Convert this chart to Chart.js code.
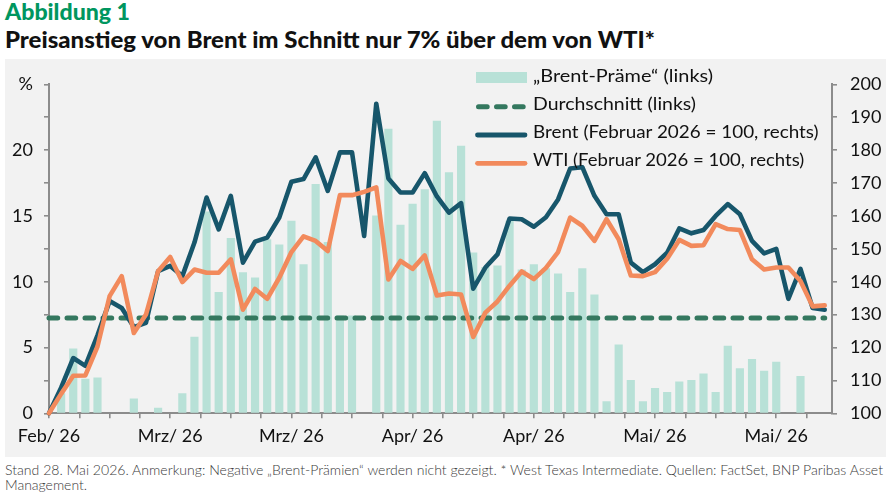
<!DOCTYPE html>
<html>
<head>
<meta charset="utf-8">
<script src="https://cdn.jsdelivr.net/npm/chart.js@4.4.1/dist/chart.umd.min.js"></script>
<style>
  html, body { margin:0; padding:0; }
  body { width:886px; height:500px; background:#fff; position:relative; overflow:hidden; font-family: Lato, "Noto Sans", sans-serif; }
  .t { position:absolute; white-space:nowrap; display:inline-block; transform-origin:0 0; line-height:1; }
  #panel { position:absolute; left:5px; top:59px; width:881px; height:398px; background:#f2f2f2; }
  .sw { position:absolute; }
</style>
</head>
<body>
<div class="t" data-w="125" style="left:5px; top:0px; font-size:23.5px; font-weight:900; color:#00965f;">Abbildung 1</div>
<div class="t" data-w="650" style="left:5px; top:28px; font-size:23.5px; font-weight:900; color:#111;">Preisanstieg von Brent im Schnitt nur 7% über dem von WTI*</div>

<div id="panel"><canvas id="c"></canvas></div>

<div class="sw" style="left:476px; top:72px; width:51px; height:11px; background:#b8e1d7;"></div>
<svg class="sw" style="left:470px; top:96px;" width="62" height="80">
  <line x1="8.5" y1="10.7" x2="54" y2="10.7" stroke="#34785f" stroke-width="5" stroke-linecap="round" stroke-dasharray="8.7 9.3"/>
  <line x1="7.5" y1="39" x2="55" y2="39" stroke="#17566b" stroke-width="4.8" stroke-linecap="round"/>
  <line x1="7.5" y1="67.3" x2="55" y2="67.3" stroke="#f28a5c" stroke-width="4.8" stroke-linecap="round"/>
</svg>
<div class="t" data-w="180" style="left:533px; top:67.2px; font-size:17.5px; color:#111;">„Brent-Präme“ (links)</div>
<div class="t" data-w="163" style="left:533px; top:95.2px; font-size:17.5px; color:#111;">Durchschnitt (links)</div>
<div class="t" data-w="285.6" style="left:533px; top:122.8px; font-size:17.5px; color:#111;">Brent (Februar 2026 = 100, rechts)</div>
<div class="t" data-w="271.3" style="left:533px; top:151.2px; font-size:17.5px; color:#111;">WTI (Februar 2026 = 100, rechts)</div>

<div class="t" data-w="878" style="left:5px; top:464px; font-size:13px; font-weight:300; color:#3a3a3a;">Stand 28. Mai 2026. Anmerkung: Negative „Brent-Prämien“ werden nicht gezeigt. * West Texas Intermediate. Quellen: FactSet, BNP Paribas Asset</div>
<div class="t" data-w="82" style="left:5px; top:479px; font-size:13px; font-weight:300; color:#3a3a3a;">Management.</div>

<script>
// ---- data ----
const xLabels = ['Feb/ 26', 'Mrz/ 26', 'Mrz/ 26', 'Apr/ 26', 'Apr/ 26', 'Mai/ 26', 'Mai/ 26'];
const brent = [100, 107.8, 116.8, 114.4, 123.7, 134.1, 132.0, 126.2, 127.5, 143.2,
  144.8, 141.7, 151.9, 165.6, 155.9, 166.1, 145.8, 152.2, 153.4, 159.5,
  170.4, 171.2, 177.8, 167.6, 179.3, 179.3, 153.9, 194.1, 171.4, 167.1,
  167.1, 173.0, 165.9, 161.0, 163.9, 137.9, 144.3, 148.3, 159.2, 159.0,
  156.7, 159.6, 165.0, 174.4, 174.8, 166.1, 160.5, 160.5, 145.8, 142.9,
  145.3, 148.8, 156.2, 154.7, 155.7, 160.0, 163.6, 160.5, 152.4, 148.6,
  150.0, 134.8, 143.9, 132.0, 131.5];
const wti = [100, 105.9, 111.4, 111.5, 120.3, 135.6, 141.7, 124.4, 130.0, 143.2,
  147.5, 139.9, 143.7, 142.7, 142.7, 146.8, 131.5, 137.8, 134.8, 141.2,
  149.0, 153.8, 152.4, 149.3, 166.3, 166.3, 167.3, 168.7, 140.7, 146.3,
  143.9, 148.0, 135.8, 136.4, 136.1, 123.2, 130.6, 134.0, 138.8, 143.1,
  140.8, 144.2, 149.0, 159.5, 157.0, 152.4, 159.0, 152.9, 141.9, 141.7,
  142.9, 147.0, 152.7, 150.9, 151.1, 157.5, 156.0, 155.7, 146.8, 143.7,
  144.3, 144.3, 140.2, 132.5, 132.8];
const premium = [null, 1.5, 4.9, 2.6, 2.7, null, null, 1.1, null, 0.4,
  null, 1.5, 5.8, 15.3, 9.2, 13.3, 10.7, 10.3, 13.2, 12.8,
  14.6, 11.3, 17.4, 13.0, 7.4, 7.4, null, 15.0, 21.6, 14.3,
  15.9, 17.0, 22.2, 18.3, 20.3, 12.2, 11.1, 11.2, 14.6, 10.9,
  11.3, 11.0, 10.6, 9.2, 11.0, 9.0, 0.9, 5.2, 2.5, 0.9,
  1.9, 1.6, 2.4, 2.5, 3.0, 1.6, 5.1, 3.4, 4.1, 3.2,
  3.9, null, 2.8, null, null];
const average = 7.25;
const leftTopLabel = '%';

// ---- text fitting ----
function fitTexts() {
  document.querySelectorAll('.t[data-w]').forEach(el => {
    el.style.transform = 'none';
    const w = el.getBoundingClientRect().width;
    const target = parseFloat(el.dataset.w);
    if (w > 0) el.style.transform = 'scaleX(' + (target / w) + ')';
  });
}

const pts = arr => arr.map((v, i) => ({ x: i, y: v }));
const lastIdx = brent.length - 1;

const axisGrey = '#8c8c8c';
const tickFont = { family: 'Lato', size: 18 };

function build() {
  fitTexts();
  new Chart(document.getElementById('c'), {
    type: 'bar',
    data: {
      datasets: [
        {
          type: 'line', label: 'WTI', data: pts(wti), yAxisID: 'y2',
          borderColor: '#f28a5c', borderWidth: 4.6, pointRadius: 0, tension: 0,
          borderJoinStyle: 'round', borderCapStyle: 'round', clip: false, order: 0
        },
        {
          type: 'line', label: 'Brent', data: pts(brent), yAxisID: 'y2',
          borderColor: '#17566b', borderWidth: 4.6, pointRadius: 0, tension: 0,
          borderJoinStyle: 'round', borderCapStyle: 'round', clip: false, order: 1
        },
        {
          type: 'line', label: 'Durchschnitt',
          data: [{ x: 0, y: average }, { x: lastIdx, y: average }], yAxisID: 'y',
          borderColor: '#34785f', borderWidth: 5, borderDash: [8.7, 9.3],
          borderCapStyle: 'round', pointRadius: 0, order: 2, clip: false
        },
        {
          type: 'bar', label: 'Brent-Präme', data: pts(premium), yAxisID: 'y',
          backgroundColor: '#b8e1d7', barThickness: 7.5, order: 3
        }
      ]
    },
    options: {
      responsive: true, maintainAspectRatio: false, animation: false,
      layout: { padding: { top: 25.3, left: 0, right: 0, bottom: 0 } },
      plugins: { legend: { display: false }, tooltip: { enabled: false } },
      scales: {
        x: {
          type: 'linear', min: 0, max: 64.6, offset: false,
          grid: { offset: false, drawOnChartArea: false, drawTicks: true, tickLength: 5, color: axisGrey, lineWidth: 1.6 },
          border: { display: true, color: axisGrey, width: 2 },
          ticks: {
            stepSize: 2.5, includeBounds: false, autoSkip: false, maxRotation: 0, minRotation: 0,
            padding: 7, color: '#111', font: tickFont,
            callback: (v) => (Math.abs(v % 10) < 1e-9 ? xLabels[Math.round(v / 10)] : '')
          },
          afterFit: (s) => { s.height = 43.7; }
        },
        y: {
          position: 'left', min: 0, max: 25,
          grid: { drawOnChartArea: false, drawTicks: true, tickLength: 5, color: axisGrey, lineWidth: 1.6 },
          border: { display: true, color: axisGrey, width: 2 },
          ticks: {
            stepSize: 2.5, autoSkip: false, padding: 11, color: '#111', font: tickFont,
            callback: (v) => (v === 25 ? leftTopLabel : (v % 5 === 0 ? String(v) : ''))
          },
          afterFit: (s) => { s.width = 44; }
        },
        y2: {
          position: 'right', min: 100, max: 200,
          grid: { drawOnChartArea: false, drawTicks: true, tickLength: 5, color: axisGrey, lineWidth: 1.6 },
          border: { display: true, color: axisGrey, width: 2 },
          ticks: { stepSize: 10, autoSkip: false, padding: 13, color: '#111', font: tickFont },
          afterFit: (s) => { s.width = 54; }
        }
      }
    }
  });
}

if (document.fonts && document.fonts.ready) {
  Promise.all([
    document.fonts.load('18px Lato'), document.fonts.load('900 23px Lato'), document.fonts.load('300 13px Lato')
  ]).catch(() => {}).then(() => document.fonts.ready).then(build);
} else {
  build();
}
</script>
</body>
</html>
